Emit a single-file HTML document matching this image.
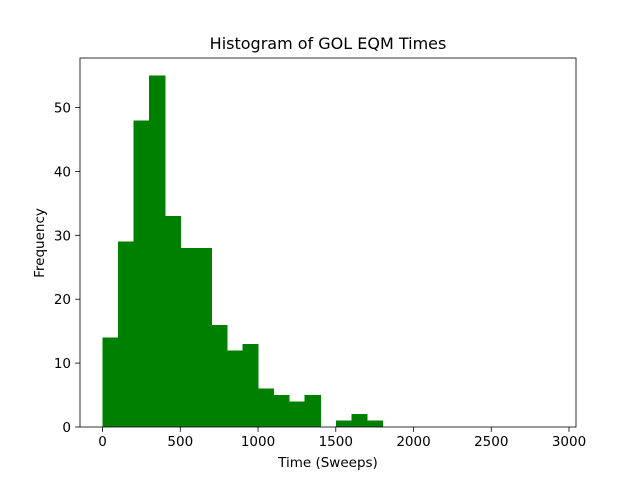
<!DOCTYPE html>
<html><head><meta charset="utf-8"><style>body{margin:0;background:#fff}svg{display:block}text{font-family:"DejaVu Sans","Liberation Sans",sans-serif;fill:#000}</style></head>
<body>
<svg id="c" width="640" height="480"></svg>
<script>
const binEdgesStart = 0;
const binWidth = 100;
const counts = [14,29,48,55,33,28,28,16,12,13,6,5,4,5,0,1,2,1,0,0,0,0,0,0,0,0,0,0,0];
const xTicks = [0,500,1000,1500,2000,2500,3000];
const yTicks = [0,10,20,30,40,50];
const L=80,R=576,T=58,B=427;
const xmin=-145,xmax=3045,ymax=57.75;
const X=v=>L+(v-xmin)*(R-L)/(xmax-xmin);
const Y=v=>B-v*(B-T)/ymax;
const svg=document.getElementById('c');
const NS='http://www.w3.org/2000/svg';
function el(t,a,p){const e=document.createElementNS(NS,t);for(const k in a)e.setAttribute(k,a[k]);(p||svg).appendChild(e);return e;}
const bars=el('g',{});


counts.forEach((c,i)=>{if(c<=0)return;const x0=X(binEdgesStart+i*binWidth),x1=X(binEdgesStart+(i+1)*binWidth);
const r=el('rect',{x:x0,y:Y(c),width:x1-x0+0.6,height:Y(0)-Y(c),fill:'#008000','shape-rendering':'crispEdges'},bars);

});
const f=el('rect',{x:L,y:T,width:R-L,height:B-T,fill:'none',stroke:'#000','stroke-width':0.8});


xTicks.forEach(v=>{const x=X(v);el('line',{x1:x,x2:x,y1:B,y2:B+4.9,stroke:'#000','stroke-width':0.8});
const t=el('text',{x:x,y:B+19,'font-size':13.5,'text-anchor':'middle'});t.textContent=v;

});
yTicks.forEach(v=>{const y=Y(v);el('line',{x1:L,x2:L-4.9,y1:y,y2:y,stroke:'#000','stroke-width':0.8});
const t=el('text',{x:L-9,y:y+5,'font-size':13.5,'text-anchor':'end'});t.textContent=v;

});
let t=el('text',{x:328,y:49,'font-size':16,'text-anchor':'middle'});t.textContent='Histogram of GOL EQM Times';


t=el('text',{x:328,y:467,'font-size':13.5,'text-anchor':'middle'});t.textContent='Time (Sweeps)';


t=el('text',{x:44,y:243,'font-size':13.5,'text-anchor':'middle',transform:'rotate(-90 44 243)'});t.textContent='Frequency';


</script>
</body></html>
